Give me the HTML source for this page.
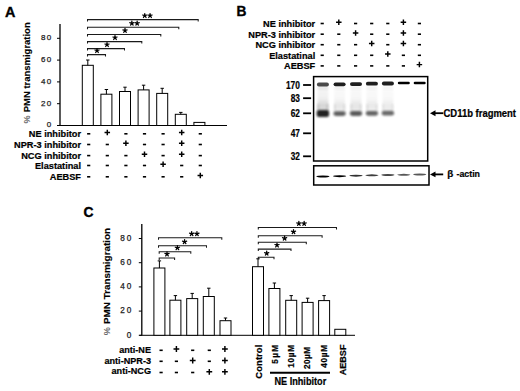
<!DOCTYPE html>
<html><head><meta charset="utf-8"><style>
html,body{margin:0;padding:0;background:#fff;width:520px;height:391px;overflow:hidden}
svg{display:block;font-family:"Liberation Sans", sans-serif}
</style></head><body>
<svg width="520" height="391" viewBox="0 0 520 391">
<text x="4.9" y="16.8" font-size="15.4" text-anchor="start" font-weight="bold" fill="#000" textLength="10.4" lengthAdjust="spacingAndGlyphs" stroke="#000" stroke-width="0.4">A</text>
<line x1="60" y1="24" x2="60" y2="125.5" stroke="#000" stroke-width="1.3"/>
<line x1="60" y1="125.5" x2="227" y2="125.5" stroke="#000" stroke-width="1"/>
<line x1="57" y1="125.5" x2="60" y2="125.5" stroke="#000" stroke-width="1"/>
<text x="52.3" y="127.3" font-size="8.0" text-anchor="end" font-weight="normal" fill="#222" letter-spacing="1.2" stroke="#222" stroke-width="0.25">0</text>
<line x1="57" y1="103.7" x2="60" y2="103.7" stroke="#000" stroke-width="1"/>
<text x="52.3" y="105.5" font-size="8.0" text-anchor="end" font-weight="normal" fill="#222" letter-spacing="1.2" stroke="#222" stroke-width="0.25">20</text>
<line x1="57" y1="81.9" x2="60" y2="81.9" stroke="#000" stroke-width="1"/>
<text x="52.3" y="83.7" font-size="8.0" text-anchor="end" font-weight="normal" fill="#222" letter-spacing="1.2" stroke="#222" stroke-width="0.25">40</text>
<line x1="57" y1="60.099999999999994" x2="60" y2="60.099999999999994" stroke="#000" stroke-width="1"/>
<text x="52.3" y="61.89999999999999" font-size="8.0" text-anchor="end" font-weight="normal" fill="#222" letter-spacing="1.2" stroke="#222" stroke-width="0.25">60</text>
<line x1="57" y1="38.3" x2="60" y2="38.3" stroke="#000" stroke-width="1"/>
<text x="52.3" y="40.099999999999994" font-size="8.0" text-anchor="end" font-weight="normal" fill="#222" letter-spacing="1.2" stroke="#222" stroke-width="0.25">80</text>
<text transform="translate(29.8,123.6) rotate(-90)" font-size="9.1" font-weight="bold" fill="#6a6a6a">%</text>
<text transform="translate(29.8,112.3) rotate(-90)" font-size="9.6" font-weight="bold" textLength="90" lengthAdjust="spacingAndGlyphs" stroke="#000" stroke-width="0.15">PMN transmigration</text>
<rect x="82.3" y="65.3" width="11" height="60.2" fill="#fff" stroke="#000" stroke-width="1"/>
<line x1="87.8" y1="60.0" x2="87.8" y2="65.3" stroke="#000" stroke-width="1"/>
<line x1="86.1" y1="60.0" x2="89.5" y2="60.0" stroke="#000" stroke-width="1"/>
<rect x="100.9" y="94.2" width="11" height="31.299999999999997" fill="#fff" stroke="#000" stroke-width="1"/>
<line x1="106.4" y1="89.5" x2="106.4" y2="94.2" stroke="#000" stroke-width="1"/>
<line x1="104.7" y1="89.5" x2="108.10000000000001" y2="89.5" stroke="#000" stroke-width="1"/>
<rect x="119.5" y="91.5" width="11" height="34.0" fill="#fff" stroke="#000" stroke-width="1"/>
<line x1="125.0" y1="87.2" x2="125.0" y2="91.5" stroke="#000" stroke-width="1"/>
<line x1="123.3" y1="87.2" x2="126.7" y2="87.2" stroke="#000" stroke-width="1"/>
<rect x="138.1" y="89.9" width="11" height="35.599999999999994" fill="#fff" stroke="#000" stroke-width="1"/>
<line x1="143.6" y1="85.2" x2="143.6" y2="89.9" stroke="#000" stroke-width="1"/>
<line x1="141.9" y1="85.2" x2="145.29999999999998" y2="85.2" stroke="#000" stroke-width="1"/>
<rect x="156.7" y="93.4" width="11" height="32.099999999999994" fill="#fff" stroke="#000" stroke-width="1"/>
<line x1="162.2" y1="88.3" x2="162.2" y2="93.4" stroke="#000" stroke-width="1"/>
<line x1="160.5" y1="88.3" x2="163.89999999999998" y2="88.3" stroke="#000" stroke-width="1"/>
<rect x="175.3" y="114.3" width="11" height="11.200000000000003" fill="#fff" stroke="#000" stroke-width="1"/>
<line x1="180.8" y1="112.4" x2="180.8" y2="114.3" stroke="#000" stroke-width="1"/>
<line x1="179.10000000000002" y1="112.4" x2="182.5" y2="112.4" stroke="#000" stroke-width="1"/>
<rect x="193.9" y="122.4" width="11" height="3.0999999999999943" fill="#fff" stroke="#000" stroke-width="1"/>
<path d="M87.5 21.6 L87.5 19.6 L198.2 19.6 L198.2 21.6" fill="none" stroke="#1a1a1a" stroke-width="1.05"/>
<path d="M144.75 15.70 L144.75 13.50 M144.75 15.70 L146.84 15.02 M144.75 15.70 L146.04 17.48 M144.75 15.70 L143.46 17.48 M144.75 15.70 L142.66 15.02 " stroke="#000" stroke-width="1.25" stroke-linecap="round" fill="none"/>
<circle cx="144.75" cy="15.700000000000001" r="0.9" fill="#000"/>
<path d="M150.05 15.70 L150.05 13.50 M150.05 15.70 L152.14 15.02 M150.05 15.70 L151.34 17.48 M150.05 15.70 L148.76 17.48 M150.05 15.70 L147.96 15.02 " stroke="#000" stroke-width="1.25" stroke-linecap="round" fill="none"/>
<circle cx="150.05" cy="15.700000000000001" r="0.9" fill="#000"/>
<path d="M87.5 29.2 L87.5 27.2 L178.8 27.2 L178.8 29.2" fill="none" stroke="#1a1a1a" stroke-width="1.05"/>
<path d="M131.85 23.30 L131.85 21.10 M131.85 23.30 L133.94 22.62 M131.85 23.30 L133.14 25.08 M131.85 23.30 L130.56 25.08 M131.85 23.30 L129.76 22.62 " stroke="#000" stroke-width="1.25" stroke-linecap="round" fill="none"/>
<circle cx="131.85" cy="23.3" r="0.9" fill="#000"/>
<path d="M137.15 23.30 L137.15 21.10 M137.15 23.30 L139.24 22.62 M137.15 23.30 L138.44 25.08 M137.15 23.30 L135.86 25.08 M137.15 23.30 L135.06 22.62 " stroke="#000" stroke-width="1.25" stroke-linecap="round" fill="none"/>
<circle cx="137.15" cy="23.3" r="0.9" fill="#000"/>
<path d="M87.5 36.4 L87.5 34.4 L160.8 34.4 L160.8 36.4" fill="none" stroke="#1a1a1a" stroke-width="1.05"/>
<path d="M125.00 30.50 L125.00 28.30 M125.00 30.50 L127.09 29.82 M125.00 30.50 L126.29 32.28 M125.00 30.50 L123.71 32.28 M125.00 30.50 L122.91 29.82 " stroke="#000" stroke-width="1.25" stroke-linecap="round" fill="none"/>
<circle cx="125" cy="30.5" r="0.9" fill="#000"/>
<path d="M87.5 43.6 L87.5 41.6 L141.8 41.6 L141.8 43.6" fill="none" stroke="#1a1a1a" stroke-width="1.05"/>
<path d="M115.00 37.70 L115.00 35.50 M115.00 37.70 L117.09 37.02 M115.00 37.70 L116.29 39.48 M115.00 37.70 L113.71 39.48 M115.00 37.70 L112.91 37.02 " stroke="#000" stroke-width="1.25" stroke-linecap="round" fill="none"/>
<circle cx="115" cy="37.7" r="0.9" fill="#000"/>
<path d="M87.5 50.6 L87.5 48.6 L124.5 48.6 L124.5 50.6" fill="none" stroke="#1a1a1a" stroke-width="1.05"/>
<path d="M107.00 44.70 L107.00 42.50 M107.00 44.70 L109.09 44.02 M107.00 44.70 L108.29 46.48 M107.00 44.70 L105.71 46.48 M107.00 44.70 L104.91 44.02 " stroke="#000" stroke-width="1.25" stroke-linecap="round" fill="none"/>
<circle cx="107" cy="44.7" r="0.9" fill="#000"/>
<path d="M87.5 56.6 L87.5 54.6 L105.5 54.6 L105.5 56.6" fill="none" stroke="#1a1a1a" stroke-width="1.05"/>
<path d="M97.00 50.70 L97.00 48.50 M97.00 50.70 L99.09 50.02 M97.00 50.70 L98.29 52.48 M97.00 50.70 L95.71 52.48 M97.00 50.70 L94.91 50.02 " stroke="#000" stroke-width="1.25" stroke-linecap="round" fill="none"/>
<circle cx="97" cy="50.7" r="0.9" fill="#000"/>
<text x="81" y="137.3" font-size="9.84" text-anchor="end" font-weight="bold" fill="#000" stroke="#000" stroke-width="0.22" textLength="52.13" lengthAdjust="spacingAndGlyphs" >NE inhibitor</text>
<path d="M87.10 133.80 H90.30" stroke="#000" stroke-width="1.6" fill="none"/>
<path d="M104.55 132.50 H110.05 M107.30 129.75 V135.25" stroke="#000" stroke-width="1.45" fill="none"/>
<path d="M124.30 133.80 H127.50" stroke="#000" stroke-width="1.6" fill="none"/>
<path d="M142.90 133.80 H146.10" stroke="#000" stroke-width="1.6" fill="none"/>
<path d="M161.50 133.80 H164.70" stroke="#000" stroke-width="1.6" fill="none"/>
<path d="M178.95 132.50 H184.45 M181.70 129.75 V135.25" stroke="#000" stroke-width="1.45" fill="none"/>
<path d="M198.70 133.80 H201.90" stroke="#000" stroke-width="1.6" fill="none"/>
<text x="81" y="148" font-size="9.84" text-anchor="end" font-weight="bold" fill="#000" stroke="#000" stroke-width="0.22" textLength="66.95" lengthAdjust="spacingAndGlyphs" >NPR-3 inhibitor</text>
<path d="M87.10 144.50 H90.30" stroke="#000" stroke-width="1.6" fill="none"/>
<path d="M105.70 144.50 H108.90" stroke="#000" stroke-width="1.6" fill="none"/>
<path d="M123.15 143.20 H128.65 M125.90 140.45 V145.95" stroke="#000" stroke-width="1.45" fill="none"/>
<path d="M142.90 144.50 H146.10" stroke="#000" stroke-width="1.6" fill="none"/>
<path d="M161.50 144.50 H164.70" stroke="#000" stroke-width="1.6" fill="none"/>
<path d="M178.95 143.20 H184.45 M181.70 140.45 V145.95" stroke="#000" stroke-width="1.45" fill="none"/>
<path d="M198.70 144.50 H201.90" stroke="#000" stroke-width="1.6" fill="none"/>
<text x="81" y="159.1" font-size="9.84" text-anchor="end" font-weight="bold" fill="#000" stroke="#000" stroke-width="0.22" textLength="59.79" lengthAdjust="spacingAndGlyphs" >NCG inhibitor</text>
<path d="M87.10 155.60 H90.30" stroke="#000" stroke-width="1.6" fill="none"/>
<path d="M105.70 155.60 H108.90" stroke="#000" stroke-width="1.6" fill="none"/>
<path d="M124.30 155.60 H127.50" stroke="#000" stroke-width="1.6" fill="none"/>
<path d="M141.75 154.30 H147.25 M144.50 151.55 V157.05" stroke="#000" stroke-width="1.45" fill="none"/>
<path d="M161.50 155.60 H164.70" stroke="#000" stroke-width="1.6" fill="none"/>
<path d="M178.95 154.30 H184.45 M181.70 151.55 V157.05" stroke="#000" stroke-width="1.45" fill="none"/>
<path d="M198.70 155.60 H201.90" stroke="#000" stroke-width="1.6" fill="none"/>
<text x="81" y="169" font-size="9.84" text-anchor="end" font-weight="bold" fill="#000" stroke="#000" stroke-width="0.22" textLength="46.02" lengthAdjust="spacingAndGlyphs" >Elastatinal</text>
<path d="M87.10 165.50 H90.30" stroke="#000" stroke-width="1.6" fill="none"/>
<path d="M105.70 165.50 H108.90" stroke="#000" stroke-width="1.6" fill="none"/>
<path d="M124.30 165.50 H127.50" stroke="#000" stroke-width="1.6" fill="none"/>
<path d="M142.90 165.50 H146.10" stroke="#000" stroke-width="1.6" fill="none"/>
<path d="M160.35 164.20 H165.85 M163.10 161.45 V166.95" stroke="#000" stroke-width="1.45" fill="none"/>
<path d="M180.10 165.50 H183.30" stroke="#000" stroke-width="1.6" fill="none"/>
<path d="M198.70 165.50 H201.90" stroke="#000" stroke-width="1.6" fill="none"/>
<text x="81" y="180.3" font-size="9.84" text-anchor="end" font-weight="bold" fill="#000" stroke="#000" stroke-width="0.22" textLength="31.18" lengthAdjust="spacingAndGlyphs" >AEBSF</text>
<path d="M87.10 176.80 H90.30" stroke="#000" stroke-width="1.6" fill="none"/>
<path d="M105.70 176.80 H108.90" stroke="#000" stroke-width="1.6" fill="none"/>
<path d="M124.30 176.80 H127.50" stroke="#000" stroke-width="1.6" fill="none"/>
<path d="M142.90 176.80 H146.10" stroke="#000" stroke-width="1.6" fill="none"/>
<path d="M161.50 176.80 H164.70" stroke="#000" stroke-width="1.6" fill="none"/>
<path d="M180.10 176.80 H183.30" stroke="#000" stroke-width="1.6" fill="none"/>
<path d="M197.55 175.50 H203.05 M200.30 172.75 V178.25" stroke="#000" stroke-width="1.45" fill="none"/>
<text x="236.4" y="15.9" font-size="15.2" text-anchor="start" font-weight="bold" fill="#000" textLength="9.9" lengthAdjust="spacingAndGlyphs" stroke="#000" stroke-width="0.4">B</text>
<text x="315.2" y="27" font-size="9.84" text-anchor="end" font-weight="bold" fill="#000" stroke="#000" stroke-width="0.22" textLength="52.13" lengthAdjust="spacingAndGlyphs" >NE inhibitor</text>
<path d="M320.60 23.50 H323.80" stroke="#000" stroke-width="1.6" fill="none"/>
<path d="M336.05 22.20 H341.55 M338.80 19.45 V24.95" stroke="#000" stroke-width="1.45" fill="none"/>
<path d="M354.00 23.50 H357.20" stroke="#000" stroke-width="1.6" fill="none"/>
<path d="M370.10 23.50 H373.30" stroke="#000" stroke-width="1.6" fill="none"/>
<path d="M386.20 23.50 H389.40" stroke="#000" stroke-width="1.6" fill="none"/>
<path d="M400.65 22.20 H406.15 M403.40 19.45 V24.95" stroke="#000" stroke-width="1.45" fill="none"/>
<path d="M417.80 23.50 H421.00" stroke="#000" stroke-width="1.6" fill="none"/>
<text x="315.2" y="37.7" font-size="9.84" text-anchor="end" font-weight="bold" fill="#000" stroke="#000" stroke-width="0.22" textLength="66.95" lengthAdjust="spacingAndGlyphs" >NPR-3 inhibitor</text>
<path d="M320.60 34.20 H323.80" stroke="#000" stroke-width="1.6" fill="none"/>
<path d="M337.20 34.20 H340.40" stroke="#000" stroke-width="1.6" fill="none"/>
<path d="M352.85 32.90 H358.35 M355.60 30.15 V35.65" stroke="#000" stroke-width="1.45" fill="none"/>
<path d="M370.10 34.20 H373.30" stroke="#000" stroke-width="1.6" fill="none"/>
<path d="M386.20 34.20 H389.40" stroke="#000" stroke-width="1.6" fill="none"/>
<path d="M400.65 32.90 H406.15 M403.40 30.15 V35.65" stroke="#000" stroke-width="1.45" fill="none"/>
<path d="M417.80 34.20 H421.00" stroke="#000" stroke-width="1.6" fill="none"/>
<text x="315.2" y="48.2" font-size="9.84" text-anchor="end" font-weight="bold" fill="#000" stroke="#000" stroke-width="0.22" textLength="59.79" lengthAdjust="spacingAndGlyphs" >NCG inhibitor</text>
<path d="M320.60 44.70 H323.80" stroke="#000" stroke-width="1.6" fill="none"/>
<path d="M337.20 44.70 H340.40" stroke="#000" stroke-width="1.6" fill="none"/>
<path d="M354.00 44.70 H357.20" stroke="#000" stroke-width="1.6" fill="none"/>
<path d="M368.95 43.40 H374.45 M371.70 40.65 V46.15" stroke="#000" stroke-width="1.45" fill="none"/>
<path d="M386.20 44.70 H389.40" stroke="#000" stroke-width="1.6" fill="none"/>
<path d="M400.65 43.40 H406.15 M403.40 40.65 V46.15" stroke="#000" stroke-width="1.45" fill="none"/>
<path d="M417.80 44.70 H421.00" stroke="#000" stroke-width="1.6" fill="none"/>
<text x="315.2" y="58.8" font-size="9.84" text-anchor="end" font-weight="bold" fill="#000" stroke="#000" stroke-width="0.22" textLength="46.02" lengthAdjust="spacingAndGlyphs" >Elastatinal</text>
<path d="M320.60 55.30 H323.80" stroke="#000" stroke-width="1.6" fill="none"/>
<path d="M337.20 55.30 H340.40" stroke="#000" stroke-width="1.6" fill="none"/>
<path d="M354.00 55.30 H357.20" stroke="#000" stroke-width="1.6" fill="none"/>
<path d="M370.10 55.30 H373.30" stroke="#000" stroke-width="1.6" fill="none"/>
<path d="M385.05 54.00 H390.55 M387.80 51.25 V56.75" stroke="#000" stroke-width="1.45" fill="none"/>
<path d="M401.80 55.30 H405.00" stroke="#000" stroke-width="1.6" fill="none"/>
<path d="M417.80 55.30 H421.00" stroke="#000" stroke-width="1.6" fill="none"/>
<text x="315.2" y="69.4" font-size="9.84" text-anchor="end" font-weight="bold" fill="#000" stroke="#000" stroke-width="0.22" textLength="31.18" lengthAdjust="spacingAndGlyphs" >AEBSF</text>
<path d="M320.60 65.90 H323.80" stroke="#000" stroke-width="1.6" fill="none"/>
<path d="M337.20 65.90 H340.40" stroke="#000" stroke-width="1.6" fill="none"/>
<path d="M354.00 65.90 H357.20" stroke="#000" stroke-width="1.6" fill="none"/>
<path d="M370.10 65.90 H373.30" stroke="#000" stroke-width="1.6" fill="none"/>
<path d="M386.20 65.90 H389.40" stroke="#000" stroke-width="1.6" fill="none"/>
<path d="M401.80 65.90 H405.00" stroke="#000" stroke-width="1.6" fill="none"/>
<path d="M416.65 64.60 H422.15 M419.40 61.85 V67.35" stroke="#000" stroke-width="1.45" fill="none"/>
<defs><filter id="b1" x="-50%" y="-200%" width="200%" height="500%"><feGaussianBlur stdDeviation="0.7 0.55"/></filter><filter id="b2" x="-50%" y="-200%" width="200%" height="500%"><feGaussianBlur stdDeviation="1.0 1.3"/></filter><filter id="b3" x="-50%" y="-100%" width="200%" height="300%"><feGaussianBlur stdDeviation="1.2 3.5"/></filter><filter id="b4" x="-50%" y="-200%" width="200%" height="500%"><feGaussianBlur stdDeviation="0.5 0.35"/></filter></defs>
<rect x="317.4" y="88" width="11" height="19" fill="#000" opacity="0.05" filter="url(#b3)"/>
<rect x="317.4" y="103" width="11" height="8" fill="#000" opacity="0.17500000000000002" filter="url(#b3)"/>
<rect x="317.09999999999997" y="104" width="2" height="7" fill="#000" opacity="0.125" filter="url(#b2)"/>
<rect x="326.7" y="104" width="2" height="7" fill="#000" opacity="0.125" filter="url(#b2)"/>
<rect x="317.4" y="86" width="11" height="4" fill="#000" opacity="0.06" filter="url(#b2)"/>
<rect x="334.1" y="88" width="11" height="19" fill="#000" opacity="0.028" filter="url(#b3)"/>
<rect x="334.1" y="103" width="11" height="8" fill="#000" opacity="0.098" filter="url(#b3)"/>
<rect x="333.8" y="104" width="2" height="7" fill="#000" opacity="0.07" filter="url(#b2)"/>
<rect x="343.40000000000003" y="104" width="2" height="7" fill="#000" opacity="0.07" filter="url(#b2)"/>
<rect x="334.1" y="86" width="11" height="4" fill="#000" opacity="0.0336" filter="url(#b2)"/>
<rect x="350.5" y="88" width="11" height="19" fill="#000" opacity="0.03" filter="url(#b3)"/>
<rect x="350.5" y="103" width="11" height="8" fill="#000" opacity="0.105" filter="url(#b3)"/>
<rect x="350.2" y="104" width="2" height="7" fill="#000" opacity="0.075" filter="url(#b2)"/>
<rect x="359.8" y="104" width="2" height="7" fill="#000" opacity="0.075" filter="url(#b2)"/>
<rect x="350.5" y="86" width="11" height="4" fill="#000" opacity="0.036" filter="url(#b2)"/>
<rect x="366.4" y="88" width="11" height="19" fill="#000" opacity="0.026" filter="url(#b3)"/>
<rect x="366.4" y="103" width="11" height="8" fill="#000" opacity="0.091" filter="url(#b3)"/>
<rect x="366.09999999999997" y="104" width="2" height="7" fill="#000" opacity="0.065" filter="url(#b2)"/>
<rect x="375.7" y="104" width="2" height="7" fill="#000" opacity="0.065" filter="url(#b2)"/>
<rect x="366.4" y="86" width="11" height="4" fill="#000" opacity="0.0312" filter="url(#b2)"/>
<rect x="382.4" y="88" width="11" height="19" fill="#000" opacity="0.024" filter="url(#b3)"/>
<rect x="382.4" y="103" width="11" height="8" fill="#000" opacity="0.084" filter="url(#b3)"/>
<rect x="382.09999999999997" y="104" width="2" height="7" fill="#000" opacity="0.06" filter="url(#b2)"/>
<rect x="391.7" y="104" width="2" height="7" fill="#000" opacity="0.06" filter="url(#b2)"/>
<rect x="382.4" y="86" width="11" height="4" fill="#000" opacity="0.0288" filter="url(#b2)"/>
<rect x="316.9" y="82.6" width="12" height="3.8" rx="1.9" fill="#000" opacity="0.7" filter="url(#b1)"/>
<rect x="333.6" y="82.39999999999999" width="12" height="3.8" rx="1.9" fill="#000" opacity="0.88" filter="url(#b1)"/>
<rect x="350.0" y="82.19999999999999" width="12" height="3.8" rx="1.9" fill="#000" opacity="0.88" filter="url(#b1)"/>
<rect x="365.9" y="81.8" width="12" height="3.8" rx="1.9" fill="#000" opacity="0.88" filter="url(#b1)"/>
<rect x="381.9" y="81.6" width="12" height="3.8" rx="1.9" fill="#000" opacity="0.88" filter="url(#b1)"/>
<rect x="397.8" y="81.75" width="12" height="2.5" rx="1.25" fill="#000" opacity="1" filter="url(#b1)"/>
<rect x="413.7" y="81.65" width="12" height="2.5" rx="1.25" fill="#000" opacity="1" filter="url(#b1)"/>
<rect x="316.7" y="110.1" width="12.4" height="7.0" rx="2.5" fill="#000" opacity="0.86" filter="url(#b2)"/>
<rect x="333.40000000000003" y="111.19999999999999" width="12.4" height="4.8" rx="2.5" fill="#000" opacity="0.62" filter="url(#b2)"/>
<rect x="349.8" y="111.1" width="12.4" height="4.8" rx="2.5" fill="#000" opacity="0.64" filter="url(#b2)"/>
<rect x="365.7" y="110.89999999999999" width="12.4" height="4.8" rx="2.5" fill="#000" opacity="0.6" filter="url(#b2)"/>
<rect x="381.7" y="110.8" width="12.4" height="4.8" rx="2.5" fill="#000" opacity="0.58" filter="url(#b2)"/>
<rect x="313.6" y="76.6" width="114.1" height="84.4" fill="none" stroke="#000" stroke-width="1.5"/>
<line x1="303.1" y1="85.0" x2="311.1" y2="85.0" stroke="#000" stroke-width="1.8"/>
<text x="299.9" y="88.5" font-size="10.4" text-anchor="end" font-weight="bold" fill="#000" textLength="14.0" lengthAdjust="spacingAndGlyphs" stroke="#000" stroke-width="0.22">170</text>
<line x1="303.1" y1="98.2" x2="311.1" y2="98.2" stroke="#000" stroke-width="1.8"/>
<text x="299.9" y="101.7" font-size="10.4" text-anchor="end" font-weight="bold" fill="#000" textLength="9.2" lengthAdjust="spacingAndGlyphs" stroke="#000" stroke-width="0.22">83</text>
<line x1="303.1" y1="113.3" x2="311.1" y2="113.3" stroke="#000" stroke-width="1.8"/>
<text x="299.9" y="116.8" font-size="10.4" text-anchor="end" font-weight="bold" fill="#000" textLength="9.2" lengthAdjust="spacingAndGlyphs" stroke="#000" stroke-width="0.22">62</text>
<line x1="303.1" y1="133.3" x2="311.1" y2="133.3" stroke="#000" stroke-width="1.8"/>
<text x="299.9" y="136.8" font-size="10.4" text-anchor="end" font-weight="bold" fill="#000" textLength="9.2" lengthAdjust="spacingAndGlyphs" stroke="#000" stroke-width="0.22">47</text>
<line x1="303.1" y1="156.3" x2="311.1" y2="156.3" stroke="#000" stroke-width="1.8"/>
<text x="299.9" y="159.8" font-size="10.4" text-anchor="end" font-weight="bold" fill="#000" textLength="9.2" lengthAdjust="spacingAndGlyphs" stroke="#000" stroke-width="0.22">32</text>
<path d="M430 113.2 L435.5 110.2 L435.5 116.2 Z" fill="#000"/>
<line x1="434" y1="113.2" x2="443.3" y2="113.2" stroke="#000" stroke-width="1.8"/>
<text x="443.5" y="116.5" font-size="10.2" text-anchor="start" font-weight="bold" fill="#000" textLength="72.5" lengthAdjust="spacingAndGlyphs" stroke="#000" stroke-width="0.22">CD11b fragment</text>
<rect x="313.7" y="165.8" width="115.3" height="19.2" fill="#fff" stroke="#000" stroke-width="1.5"/>
<ellipse cx="322.9" cy="176.5" rx="6.6" ry="0.95" fill="#000" opacity="1.0" filter="url(#b4)"/>
<ellipse cx="339.6" cy="176.2" rx="6.6" ry="0.95" fill="#000" opacity="1.0" filter="url(#b4)"/>
<ellipse cx="356.0" cy="175.7" rx="6.6" ry="0.95" fill="#000" opacity="0.8" filter="url(#b4)"/>
<ellipse cx="371.9" cy="175.3" rx="6.6" ry="0.95" fill="#000" opacity="0.75" filter="url(#b4)"/>
<ellipse cx="387.9" cy="175.0" rx="6.6" ry="0.95" fill="#000" opacity="0.72" filter="url(#b4)"/>
<ellipse cx="403.8" cy="174.8" rx="6.6" ry="0.95" fill="#000" opacity="0.65" filter="url(#b4)"/>
<ellipse cx="419.7" cy="174.5" rx="6.6" ry="0.95" fill="#000" opacity="0.65" filter="url(#b4)"/>
<path d="M430 174.4 L435.5 171.6 L435.5 177.2 Z" fill="#000"/>
<line x1="434" y1="174.4" x2="443.2" y2="174.4" stroke="#000" stroke-width="1.8"/>
<text x="447.3" y="177.0" font-size="9.8" text-anchor="start" font-weight="bold" fill="#000"  stroke="#000" stroke-width="0.22">β</text>
<text x="456.5" y="177.0" font-size="9.6" text-anchor="start" font-weight="bold" fill="#000" textLength="23.5" lengthAdjust="spacingAndGlyphs" stroke="#000" stroke-width="0.22">-actin</text>
<text x="83.5" y="217.2" font-size="15.0" text-anchor="start" font-weight="bold" fill="#000" textLength="10.0" lengthAdjust="spacingAndGlyphs" stroke="#000" stroke-width="0.4">C</text>
<line x1="141.8" y1="224" x2="141.8" y2="335.3" stroke="#000" stroke-width="1.3"/>
<line x1="139.5" y1="335.3" x2="355" y2="335.3" stroke="#000" stroke-width="1"/>
<line x1="138.8" y1="335.3" x2="141.8" y2="335.3" stroke="#000" stroke-width="1"/>
<text x="133.2" y="337.6" font-size="8.2" text-anchor="end" font-weight="normal" fill="#222" letter-spacing="1.9" stroke="#222" stroke-width="0.25">0</text>
<line x1="138.8" y1="311.1" x2="141.8" y2="311.1" stroke="#000" stroke-width="1"/>
<text x="133.2" y="313.40000000000003" font-size="8.2" text-anchor="end" font-weight="normal" fill="#222" letter-spacing="1.9" stroke="#222" stroke-width="0.25">20</text>
<line x1="138.8" y1="286.90000000000003" x2="141.8" y2="286.90000000000003" stroke="#000" stroke-width="1"/>
<text x="133.2" y="289.20000000000005" font-size="8.2" text-anchor="end" font-weight="normal" fill="#222" letter-spacing="1.9" stroke="#222" stroke-width="0.25">40</text>
<line x1="138.8" y1="262.70000000000005" x2="141.8" y2="262.70000000000005" stroke="#000" stroke-width="1"/>
<text x="133.2" y="265.00000000000006" font-size="8.2" text-anchor="end" font-weight="normal" fill="#222" letter-spacing="1.9" stroke="#222" stroke-width="0.25">60</text>
<line x1="138.8" y1="238.5" x2="141.8" y2="238.5" stroke="#000" stroke-width="1"/>
<text x="133.2" y="240.8" font-size="8.2" text-anchor="end" font-weight="normal" fill="#222" letter-spacing="1.9" stroke="#222" stroke-width="0.25">80</text>
<text transform="translate(109.6,335.3) rotate(-90)" font-size="9.1" font-weight="bold" fill="#6a6a6a">%</text>
<text transform="translate(109.6,324) rotate(-90)" font-size="9.8" font-weight="bold" textLength="96.1" lengthAdjust="spacingAndGlyphs" stroke="#000" stroke-width="0.15">PMN Transmigration</text>
<rect x="153.9" y="268" width="11.0" height="67.30000000000001" fill="#fff" stroke="#000" stroke-width="1"/>
<line x1="159.4" y1="260.9" x2="159.4" y2="268" stroke="#000" stroke-width="1"/>
<line x1="157.70000000000002" y1="260.9" x2="161.1" y2="260.9" stroke="#000" stroke-width="1"/>
<rect x="169.9" y="300.2" width="11.0" height="35.10000000000002" fill="#fff" stroke="#000" stroke-width="1"/>
<line x1="175.4" y1="295.6" x2="175.4" y2="300.2" stroke="#000" stroke-width="1"/>
<line x1="173.70000000000002" y1="295.6" x2="177.1" y2="295.6" stroke="#000" stroke-width="1"/>
<rect x="186.7" y="298.6" width="11.0" height="36.69999999999999" fill="#fff" stroke="#000" stroke-width="1"/>
<line x1="192.2" y1="293.4" x2="192.2" y2="298.6" stroke="#000" stroke-width="1"/>
<line x1="190.5" y1="293.4" x2="193.89999999999998" y2="293.4" stroke="#000" stroke-width="1"/>
<rect x="203.29999999999998" y="296.5" width="11.0" height="38.80000000000001" fill="#fff" stroke="#000" stroke-width="1"/>
<line x1="208.79999999999998" y1="288.2" x2="208.79999999999998" y2="296.5" stroke="#000" stroke-width="1"/>
<line x1="207.1" y1="288.2" x2="210.49999999999997" y2="288.2" stroke="#000" stroke-width="1"/>
<rect x="220.0" y="320.7" width="11.0" height="14.600000000000023" fill="#fff" stroke="#000" stroke-width="1"/>
<line x1="225.5" y1="318" x2="225.5" y2="320.7" stroke="#000" stroke-width="1"/>
<line x1="223.8" y1="318" x2="227.2" y2="318" stroke="#000" stroke-width="1"/>
<rect x="252.5" y="266.7" width="11.0" height="68.60000000000002" fill="#fff" stroke="#000" stroke-width="1"/>
<line x1="258.0" y1="258.8" x2="258.0" y2="266.7" stroke="#000" stroke-width="1"/>
<line x1="256.3" y1="258.8" x2="259.7" y2="258.8" stroke="#000" stroke-width="1"/>
<rect x="268.90000000000003" y="288.5" width="11.0" height="46.80000000000001" fill="#fff" stroke="#000" stroke-width="1"/>
<line x1="274.40000000000003" y1="283" x2="274.40000000000003" y2="288.5" stroke="#000" stroke-width="1"/>
<line x1="272.70000000000005" y1="283" x2="276.1" y2="283" stroke="#000" stroke-width="1"/>
<rect x="285.70000000000005" y="300.3" width="11.0" height="35.0" fill="#fff" stroke="#000" stroke-width="1"/>
<line x1="291.20000000000005" y1="295.6" x2="291.20000000000005" y2="300.3" stroke="#000" stroke-width="1"/>
<line x1="289.50000000000006" y1="295.6" x2="292.90000000000003" y2="295.6" stroke="#000" stroke-width="1"/>
<rect x="302.1" y="302.4" width="11.0" height="32.900000000000034" fill="#fff" stroke="#000" stroke-width="1"/>
<line x1="307.6" y1="298.2" x2="307.6" y2="302.4" stroke="#000" stroke-width="1"/>
<line x1="305.90000000000003" y1="298.2" x2="309.3" y2="298.2" stroke="#000" stroke-width="1"/>
<rect x="318.6" y="300.6" width="11.0" height="34.69999999999999" fill="#fff" stroke="#000" stroke-width="1"/>
<line x1="324.1" y1="295.6" x2="324.1" y2="300.6" stroke="#000" stroke-width="1"/>
<line x1="322.40000000000003" y1="295.6" x2="325.8" y2="295.6" stroke="#000" stroke-width="1"/>
<rect x="334.8" y="329.3" width="11.0" height="6.0" fill="#fff" stroke="#000" stroke-width="1"/>
<path d="M158.5 239.7 L158.5 237.7 L221.8 237.7 L221.8 239.7" fill="none" stroke="#1a1a1a" stroke-width="1.05"/>
<path d="M191.65 233.80 L191.65 231.60 M191.65 233.80 L193.74 233.12 M191.65 233.80 L192.94 235.58 M191.65 233.80 L190.36 235.58 M191.65 233.80 L189.56 233.12 " stroke="#000" stroke-width="1.25" stroke-linecap="round" fill="none"/>
<circle cx="191.65" cy="233.79999999999998" r="0.9" fill="#000"/>
<path d="M196.95 233.80 L196.95 231.60 M196.95 233.80 L199.04 233.12 M196.95 233.80 L198.24 235.58 M196.95 233.80 L195.66 235.58 M196.95 233.80 L194.86 233.12 " stroke="#000" stroke-width="1.25" stroke-linecap="round" fill="none"/>
<circle cx="196.95000000000002" cy="233.79999999999998" r="0.9" fill="#000"/>
<path d="M158.5 247.7 L158.5 245.7 L206.5 245.7 L206.5 247.7" fill="none" stroke="#1a1a1a" stroke-width="1.05"/>
<path d="M184.60 241.80 L184.60 239.60 M184.60 241.80 L186.69 241.12 M184.60 241.80 L185.89 243.58 M184.60 241.80 L183.31 243.58 M184.60 241.80 L182.51 241.12 " stroke="#000" stroke-width="1.25" stroke-linecap="round" fill="none"/>
<circle cx="184.6" cy="241.79999999999998" r="0.9" fill="#000"/>
<path d="M159.2 253.8 L159.2 251.8 L190.8 251.8 L190.8 253.8" fill="none" stroke="#1a1a1a" stroke-width="1.05"/>
<path d="M177.40 247.90 L177.40 245.70 M177.40 247.90 L179.49 247.22 M177.40 247.90 L178.69 249.68 M177.40 247.90 L176.11 249.68 M177.40 247.90 L175.31 247.22 " stroke="#000" stroke-width="1.25" stroke-linecap="round" fill="none"/>
<circle cx="177.4" cy="247.9" r="0.9" fill="#000"/>
<path d="M159.2 260.0 L159.2 258 L174.6 258 L174.6 260.0" fill="none" stroke="#1a1a1a" stroke-width="1.05"/>
<path d="M167.00 254.10 L167.00 251.90 M167.00 254.10 L169.09 253.42 M167.00 254.10 L168.29 255.88 M167.00 254.10 L165.71 255.88 M167.00 254.10 L164.91 253.42 " stroke="#000" stroke-width="1.25" stroke-linecap="round" fill="none"/>
<circle cx="167" cy="254.1" r="0.9" fill="#000"/>
<path d="M258.3 229.4 L258.3 227.4 L336.5 227.4 L336.5 229.4" fill="none" stroke="#1a1a1a" stroke-width="1.05"/>
<path d="M298.85 223.50 L298.85 221.30 M298.85 223.50 L300.94 222.82 M298.85 223.50 L300.14 225.28 M298.85 223.50 L297.56 225.28 M298.85 223.50 L296.76 222.82 " stroke="#000" stroke-width="1.25" stroke-linecap="round" fill="none"/>
<circle cx="298.85" cy="223.5" r="0.9" fill="#000"/>
<path d="M304.15 223.50 L304.15 221.30 M304.15 223.50 L306.24 222.82 M304.15 223.50 L305.44 225.28 M304.15 223.50 L302.86 225.28 M304.15 223.50 L302.06 222.82 " stroke="#000" stroke-width="1.25" stroke-linecap="round" fill="none"/>
<circle cx="304.15" cy="223.5" r="0.9" fill="#000"/>
<path d="M258.3 237.7 L258.3 235.7 L322.1 235.7 L322.1 237.7" fill="none" stroke="#1a1a1a" stroke-width="1.05"/>
<path d="M293.50 231.80 L293.50 229.60 M293.50 231.80 L295.59 231.12 M293.50 231.80 L294.79 233.58 M293.50 231.80 L292.21 233.58 M293.50 231.80 L291.41 231.12 " stroke="#000" stroke-width="1.25" stroke-linecap="round" fill="none"/>
<circle cx="293.5" cy="231.79999999999998" r="0.9" fill="#000"/>
<path d="M258.3 244.2 L258.3 242.2 L306.3 242.2 L306.3 244.2" fill="none" stroke="#1a1a1a" stroke-width="1.05"/>
<path d="M284.60 238.30 L284.60 236.10 M284.60 238.30 L286.69 237.62 M284.60 238.30 L285.89 240.08 M284.60 238.30 L283.31 240.08 M284.60 238.30 L282.51 237.62 " stroke="#000" stroke-width="1.25" stroke-linecap="round" fill="none"/>
<circle cx="284.6" cy="238.29999999999998" r="0.9" fill="#000"/>
<path d="M258.3 251.1 L258.3 249.1 L291 249.1 L291 251.1" fill="none" stroke="#1a1a1a" stroke-width="1.05"/>
<path d="M277.00 245.20 L277.00 243.00 M277.00 245.20 L279.09 244.52 M277.00 245.20 L278.29 246.98 M277.00 245.20 L275.71 246.98 M277.00 245.20 L274.91 244.52 " stroke="#000" stroke-width="1.25" stroke-linecap="round" fill="none"/>
<circle cx="277" cy="245.2" r="0.9" fill="#000"/>
<path d="M258.3 259.2 L258.3 257.2 L274 257.2 L274 259.2" fill="none" stroke="#1a1a1a" stroke-width="1.05"/>
<path d="M266.70 253.30 L266.70 251.10 M266.70 253.30 L268.79 252.62 M266.70 253.30 L267.99 255.08 M266.70 253.30 L265.41 255.08 M266.70 253.30 L264.61 252.62 " stroke="#000" stroke-width="1.25" stroke-linecap="round" fill="none"/>
<circle cx="266.7" cy="253.29999999999998" r="0.9" fill="#000"/>
<text x="151" y="352.7" font-size="9.74" text-anchor="end" font-weight="bold" fill="#000" stroke="#000" stroke-width="0.22" textLength="31.85" lengthAdjust="spacingAndGlyphs" >anti-NE</text>
<path d="M159.50 350.30 H162.70" stroke="#000" stroke-width="1.6" fill="none"/>
<path d="M173.50 349.00 H179.30 M176.40 346.10 V351.90" stroke="#000" stroke-width="1.45" fill="none"/>
<path d="M191.10 350.30 H194.30" stroke="#000" stroke-width="1.6" fill="none"/>
<path d="M207.70 350.30 H210.90" stroke="#000" stroke-width="1.6" fill="none"/>
<path d="M222.00 349.00 H227.80 M224.90 346.10 V351.90" stroke="#000" stroke-width="1.45" fill="none"/>
<text x="151" y="363.5" font-size="9.74" text-anchor="end" font-weight="bold" fill="#000" stroke="#000" stroke-width="0.22" textLength="46.52" lengthAdjust="spacingAndGlyphs" >anti-NPR-3</text>
<path d="M159.50 361.30 H162.70" stroke="#000" stroke-width="1.6" fill="none"/>
<path d="M174.80 361.30 H178.00" stroke="#000" stroke-width="1.6" fill="none"/>
<path d="M189.80 360.50 H195.60 M192.70 357.60 V363.40" stroke="#000" stroke-width="1.45" fill="none"/>
<path d="M207.70 361.30 H210.90" stroke="#000" stroke-width="1.6" fill="none"/>
<path d="M222.00 360.50 H227.80 M224.90 357.60 V363.40" stroke="#000" stroke-width="1.45" fill="none"/>
<text x="151" y="373.8" font-size="9.74" text-anchor="end" font-weight="bold" fill="#000" stroke="#000" stroke-width="0.22" textLength="39.43" lengthAdjust="spacingAndGlyphs" >anti-NCG</text>
<path d="M159.50 372.50 H162.70" stroke="#000" stroke-width="1.6" fill="none"/>
<path d="M174.80 372.50 H178.00" stroke="#000" stroke-width="1.6" fill="none"/>
<path d="M191.10 372.50 H194.30" stroke="#000" stroke-width="1.6" fill="none"/>
<path d="M206.40 371.80 H212.20 M209.30 368.90 V374.70" stroke="#000" stroke-width="1.45" fill="none"/>
<path d="M222.00 371.80 H227.80 M224.90 368.90 V374.70" stroke="#000" stroke-width="1.45" fill="none"/>
<text transform="translate(261.6,344.6) rotate(-90)" font-size="9.4" font-weight="bold" text-anchor="end" letter-spacing="0.1" stroke="#000" stroke-width="0.22">Control</text>
<text transform="translate(278.2,343.7) rotate(-90)" font-size="8.2" font-weight="bold" text-anchor="end" letter-spacing="1.3" stroke="#000" stroke-width="0.22">5µM</text>
<text transform="translate(293.9,344.2) rotate(-90)" font-size="8.2" font-weight="bold" text-anchor="end" letter-spacing="0.7" stroke="#000" stroke-width="0.22">10µM</text>
<text transform="translate(310.2,346.4) rotate(-90)" font-size="8.2" font-weight="bold" text-anchor="end" letter-spacing="0.5" stroke="#000" stroke-width="0.22">20µM</text>
<text transform="translate(327.0,344.2) rotate(-90)" font-size="8.2" font-weight="bold" text-anchor="end" letter-spacing="0.7" stroke="#000" stroke-width="0.22">40µM</text>
<text transform="translate(346,344.5) rotate(-90)" font-size="9.1" font-weight="bold" text-anchor="end" letter-spacing="0" stroke="#000" stroke-width="0.22">AEBSF</text>
<line x1="270" y1="372.7" x2="330" y2="372.7" stroke="#000" stroke-width="2"/>
<text x="300.3" y="385.1" font-size="10.25" text-anchor="middle" font-weight="bold" fill="#000" stroke="#000" stroke-width="0.22" textLength="51.84" lengthAdjust="spacingAndGlyphs" >NE Inhibitor</text>
</svg>
</body></html>
